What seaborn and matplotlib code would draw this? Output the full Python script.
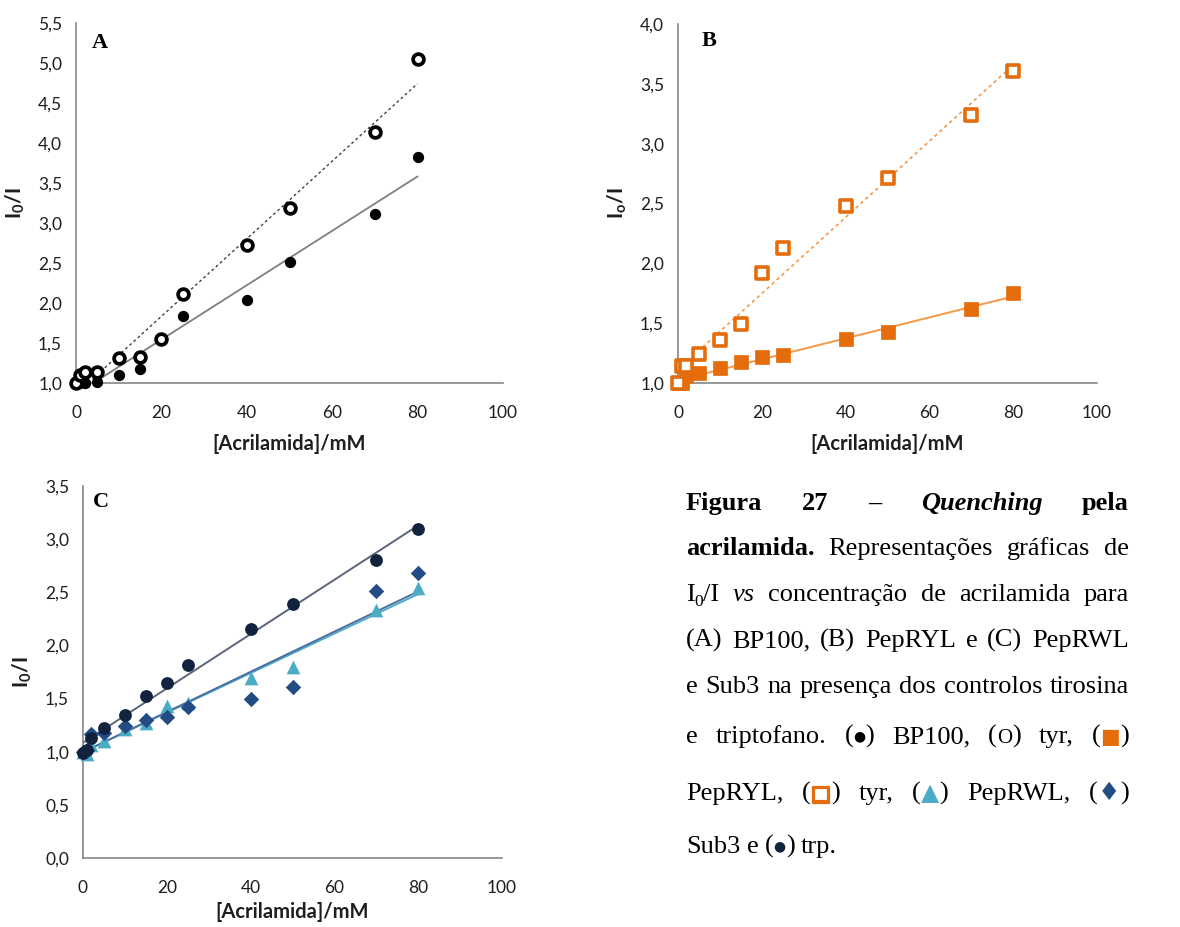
import numpy as np
import pandas as pd
import matplotlib
matplotlib.use("Agg")
import matplotlib.pyplot as plt
import matplotlib.patheffects as pe
from matplotlib.ticker import FuncFormatter, MultipleLocator
import seaborn as sns

# ---- data: acrylamide concentration (mM) and I0/I ratios ----
conc = [0, 1, 2, 5, 10, 15, 20, 25, 40, 50, 70, 80]

bp100 = [1.00, 1.00, 1.00, 1.01, 1.10, 1.18, 1.54, 1.84, 2.04, 2.51, 3.11, 3.83]
tyr_a = [1.00, 1.10, 1.14, 1.14, 1.31, 1.32, 1.55, 2.11, 2.73, 3.19, 4.14, 5.05]

pepryl = [1.00, 1.00, 1.06, 1.08, 1.125, 1.175, 1.22, 1.23, 1.37, 1.43, 1.62, 1.75]
tyr_b = [1.00, 1.14, 1.14, 1.24, 1.36, 1.49, 1.92, 2.13, 2.48, 2.71, 3.24, 3.61]

pepRWL = [1.00, 0.98, 1.06, 1.10, 1.21, 1.27, 1.43, 1.46, 1.69, 1.80, 2.33, 2.54]
sub3 = [1.00, 1.02, 1.17, 1.18, 1.24, 1.30, 1.33, 1.42, 1.50, 1.61, 2.51, 2.68]
trp = [0.99, 1.02, 1.13, 1.22, 1.35, 1.52, 1.65, 1.82, 2.15, 2.39, 2.80, 3.10]

x_label = "[Acrilamida]/mM"
x_ticks = [0, 20, 40, 60, 80, 100]

W, H = 1180, 927
sns.set_theme(style="white")
plt.rcParams["font.family"] = ["Lato", "DejaVu Sans"]
plt.rcParams["mathtext.fontset"] = "custom"
plt.rcParams["mathtext.rm"] = "Lato"
plt.rcParams["mathtext.bf"] = "Lato:bold"

fig = plt.figure(figsize=(W / 100, H / 100), dpi=100)
fig.patch.set_facecolor("white")

AX_GRAY = "#868686"
TXT = "#1e1e1e"
comma = FuncFormatter(lambda v, p: f"{v:.1f}".replace(".", ","))


def px_axes(left, top, right, bottom):
    return fig.add_axes([left / W, 1 - bottom / H, (right - left) / W, (bottom - top) / H])


def style_axes(ax, ymin, ymax, ylab, xpad=9):
    ax.set_xlim(0, 100)
    ax.set_ylim(ymin, ymax)
    ax.set_xticks(x_ticks)
    ax.yaxis.set_major_locator(MultipleLocator(0.5))
    ax.yaxis.set_major_formatter(comma)
    for s in ["top", "right"]:
        ax.spines[s].set_visible(False)
    for s in ["left", "bottom"]:
        ax.spines[s].set_color(AX_GRAY)
        ax.spines[s].set_linewidth(1.2)
    ax.tick_params(axis="both", direction="out", length=5, width=1.2, color=AX_GRAY,
                   labelsize=12.5, labelcolor=TXT, pad=5)
    ax.tick_params(axis="x", pad=11)
    ax.set_xlabel(x_label, fontsize=14.5, fontweight="bold", color=TXT, labelpad=xpad)
    ax.set_ylabel(ylab, fontsize=15, color=TXT, labelpad=8)
    ax.grid(False)
    ax.set_facecolor("white")


def fit(ax, y, color, lw, ls):
    sns.regplot(x=np.array(conc, float), y=np.array(y, float), ax=ax, scatter=False,
                ci=None, truncate=True,
                line_kws=dict(color=color, lw=lw, ls=ls, zorder=2))


def points(ax, y, marker, s, face, edge, lw):
    df = pd.DataFrame({"conc": conc, "ratio": y})
    sns.scatterplot(data=df, x="conc", y="ratio", ax=ax, marker=marker, s=s,
                    color=face, edgecolor=edge, linewidth=lw, clip_on=False, zorder=3)


# ---- panel A ----
axA = px_axes(76, 23, 503, 383)
fit(axA, bp100, "#7f7f7f", 1.3, "-")
fit(axA, tyr_a, "#404040", 1.0, (0, (2, 2)))
points(axA, bp100, "o", 66, "black", "black", 0)
points(axA, tyr_a, "o", 60, "white", "black", 2.7)
style_axes(axA, 1.0, 5.5, r"$\mathbf{I_0/I}$")

# ---- panel B ----
ORANGE = "#E46C0A"
axB = px_axes(678, 24, 1097, 383)
fit(axB, pepryl, "#F79646", 1.4, "-")
fit(axB, tyr_b, "#F79646", 1.2, (0, (2, 2)))
points(axB, pepryl, "s", 88, ORANGE, ORANGE, 0.5)
points(axB, tyr_b, "s", 68, "white", ORANGE, 2.6)
style_axes(axB, 1.0, 4.0, r"$\mathbf{I_o/I}$")

# ---- panel C ----
axC = px_axes(83, 486, 502, 858)
fit(axC, trp, "#5b6579", 1.4, "-")
fit(axC, pepRWL, "#4BACC6", 1.4, "-")
fit(axC, sub3, "#4f6fa0", 1.4, "-")
points(axC, pepRWL, "^", 98, "#4BACC6", "#4BACC6", 0)
points(axC, sub3, "D", 62, "#244C84", "#244C84", 0)
points(axC, trp, "o", 85, "#12233F", "#12233F", 0)
style_axes(axC, 0.0, 3.5, r"$\mathbf{I_0/I}$", xpad=4)

# panel letters
for lab, (px, py) in {"A": (92, 48), "B": (702, 46), "C": (93, 507)}.items():
    fig.text(px / W, 1 - py / H, lab, fontsize=16, fontweight="bold",
             family="Liberation Serif", color="black", va="baseline", ha="left")

# ---- caption, justified between two margins ----
SERIF = "Liberation Serif"
FS = 19
styles = {
    "r": dict(family=SERIF, fontsize=FS),
    "b": dict(family=SERIF, fontsize=FS, fontweight="bold"),
    "bi": dict(family=SERIF, fontsize=FS, fontweight="bold", fontstyle="italic"),
    "i": dict(family=SERIF, fontsize=FS, fontstyle="italic"),
    "sub": dict(family=SERIF, fontsize=12.5),
    "O": dict(family=SERIF, fontsize=15),
    "dotk": dict(family="DejaVu Sans", fontsize=10, color="black"),
    "sqf": dict(family="DejaVu Sans", fontsize=15, color=ORANGE),
    "sqo": dict(family="DejaVu Sans", fontsize=15, color=ORANGE,
                path_effects=[pe.withStroke(linewidth=1.6, foreground=ORANGE)]),
    "tri": dict(family="DejaVu Sans", fontsize=17, color="#4BACC6"),
    "dia": dict(family="DejaVu Sans", fontsize=18, color="#244C84"),
    "dotn": dict(family="DejaVu Sans", fontsize=10, color="#12233F"),
}


def w(*pieces):
    # each piece: (text, style key, downward shift in pixels)
    return [p if len(p) == 3 else (p[0], p[1], 0) for p in pieces]


def sym(key, ch, dy=0):
    return w(("(", "r"), (ch, key, dy), (")", "r"))


lines = [
    [w(("Figura", "b")), w(("27", "b")), w(("–", "b")), w(("Quenching", "bi")), w(("pela", "b"))],
    [w(("acrilamida.", "b")), w(("Representações", "r")), w(("gráficas", "r")), w(("de", "r"))],
    [w(("I", "r"), ("0", "sub", 5), ("/I", "r")), w(("vs", "i")), w(("concentração", "r")),
     w(("de", "r")), w(("acrilamida", "r")), w(("para", "r"))],
    [w(("(A)", "r")), w(("BP100,", "r")), w(("(B)", "r")), w(("PepRYL", "r")), w(("e", "r")),
     w(("(C)", "r")), w(("PepRWL", "r"))],
    [w((t, "r")) for t in "e Sub3 na presença dos controlos tirosina".split()],
    [w(("e", "r")), w(("triptofano.", "r")), sym("dotk", "●", -3), w(("BP100,", "r")),
     sym("O", "O"), w(("tyr,", "r")), sym("sqf", "■", 0)],
    [w(("PepRYL,", "r")), sym("sqo", "□", 0), w(("tyr,", "r")), sym("tri", "▲", 0),
     w(("PepRWL,", "r")), sym("dia", "♦", 0)],
    [w(("Sub3", "r")), w(("e", "r")), sym("dotn", "●", -3), w(("trp.", "r"))],
]
baselines = [510, 555, 601, 647, 693, 743, 800, 853]
LEFT, RIGHT = 686, 1129

renderer = fig.canvas.get_renderer()


def style_kw(key):
    return {k: v for k, v in styles[key].items() if k != "color"}


def piece_width(txt, key):
    t = fig.text(0, 0, txt, **style_kw(key))
    wd = t.get_window_extent(renderer).width
    t.remove()
    return wd


def place_word(pieces, x, y):
    for txt, key, dy in pieces:
        fig.text(x / W, 1 - (y + dy) / H, txt, va="baseline", ha="left",
                 color=styles[key].get("color", "black"), **style_kw(key))
        x += piece_width(txt, key)


for i, (line, yb) in enumerate(zip(lines, baselines)):
    widths = [sum(piece_width(t, k) for t, k, _ in wd) for wd in line]
    last = i == len(lines) - 1
    gap = 6.5 if last else (RIGHT - LEFT - sum(widths)) / (len(line) - 1)
    x = LEFT
    for wd, ww in zip(line, widths):
        place_word(wd, x, yb)
        x += ww + gap

fig.savefig("out.png", dpi=100, facecolor="white")
